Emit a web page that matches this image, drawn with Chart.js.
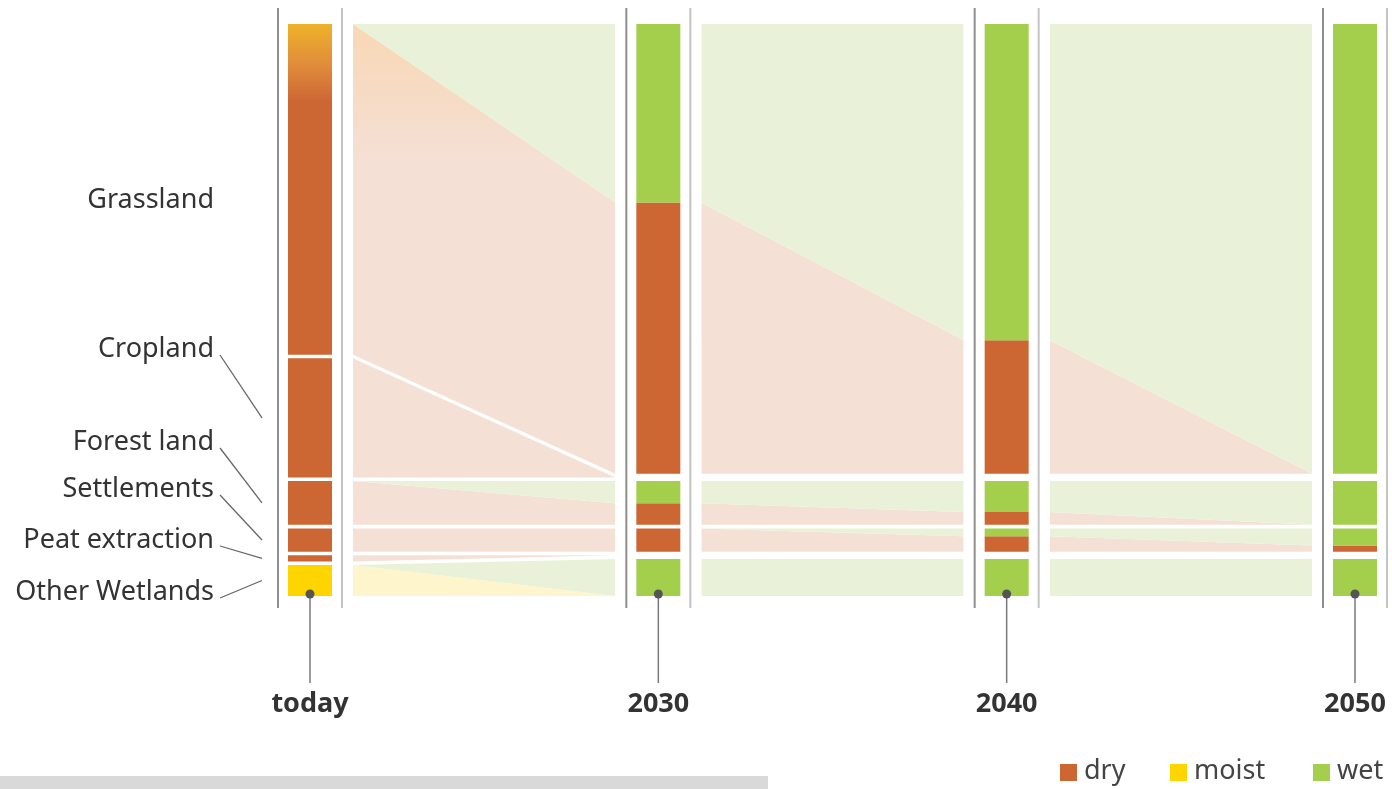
<!DOCTYPE html>
<html>
<head>
<meta charset="utf-8">
<script src="https://cdn.jsdelivr.net/npm/chart.js@4.4.1/dist/chart.umd.min.js"></script>
<style>
html, body { margin: 0; padding: 0; background: #fff; }
#wrap { width: 1392px; height: 789px; position: relative; }
</style>
</head>
<body>
<div id="wrap"><canvas id="chart" width="1392" height="789"></canvas></div>
<script>
const periods = ['today', '2030', '2040', '2050'];
const categories = ['Grassland', 'Cropland', 'Forest land', 'Settlements', 'Peat extraction', 'Other Wetlands'];

// share of total area in %, one row per category, one column per period
const wet = [
  [0, 32.2, 57.1, 81.2],
  [0, 0, 0, 0],
  [0, 4.0, 5.6, 7.9],
  [0, 0, 1.4, 3.1],
  [0, 0, 0, 0],
  [0, 6.7, 6.7, 6.7]
];
const dry = [
  [59.7, 49.0, 24.1, 0],
  [21.5, 0, 0, 0],
  [7.9, 3.9, 2.3, 0],
  [4.2, 4.2, 2.8, 1.1],
  [1.1, 0, 0, 0],
  [0, 0, 0, 0]
];
const moist = [
  [0, 0, 0, 0],
  [0, 0, 0, 0],
  [0, 0, 0, 0],
  [0, 0, 0, 0],
  [0, 0, 0, 0],
  [5.6, 0, 0, 0]
];

const states = [
  { key: 'wet', values: wet, bar: '#a4cf4c', flow: '#e9f2d8' },
  { key: 'dry', values: dry, bar: '#cc6633', flow: '#f5e0d6' },
  { key: 'moist', values: moist, bar: '#ffd500', flow: '#fff5cc' }
];

const GAP = 0.65;              // white gap between categories, in % units
const YMAX = 100 + GAP * (categories.length - 1);
const OFF = 43 / 348.33;       // distance bar centre -> flow start, in period units
const labelY = [200, 349, 442, 489, 540, 592];

// stack categories top to bottom: wet, dry, moist inside each
function stackAt(t) {
  let cur = YMAX;
  return categories.map((c, k) => {
    const out = { hi: cur };
    states.forEach(s => {
      const v = s.values[k][t];
      out[s.key] = [cur - v, cur];
      cur -= v;
    });
    out.lo = cur;
    cur -= GAP;
    return out;
  });
}
const stacks = periods.map((p, t) => stackAt(t));

function grassGradient(chart, c0, c1, c2, len) {
  const area = chart.chartArea;
  if (!area) return c2;
  const g = chart.ctx.createLinearGradient(0, area.top, 0, area.top + len);
  g.addColorStop(0, c0);
  g.addColorStop(0.55, c1);
  g.addColorStop(1, c2);
  return g;
}

const datasets = [];

// flows between periods
for (let t = 0; t < periods.length - 1; t++) {
  categories.forEach((c, k) => {
    states.forEach(s => {
      const v0 = s.values[k][t], v1 = s.values[k][t + 1];
      if (v0 === 0 && v1 === 0) return;
      const a = stacks[t][k][s.key], b = stacks[t + 1][k][s.key];
      const special = (t === 0 && k === 0 && s.key === 'dry');
      datasets.push({
        type: 'line',
        data: [{ x: t + OFF, y: a[1] }, { x: t + 1 - OFF, y: b[1] }],
        borderColor: 'rgba(0,0,0,0)',
        borderWidth: 0,
        pointRadius: 0,
        fill: '+1',
        backgroundColor: special
          ? (ctx) => grassGradient(ctx.chart, '#f8d8b6', '#f6dcc6', s.flow, 140)
          : s.flow
      });
      datasets.push({
        type: 'line',
        data: [{ x: t + OFF, y: a[0] }, { x: t + 1 - OFF, y: b[0] }],
        borderColor: 'rgba(0,0,0,0)',
        borderWidth: 0,
        pointRadius: 0,
        fill: false
      });
    });
  });
}

// stacked bars for each period
states.forEach(s => {
  const data = [];
  periods.forEach((p, t) => {
    categories.forEach((c, k) => {
      if (s.values[k][t] > 0) {
        data.push({ x: t, y: stacks[t][k][s.key], grad: (t === 0 && k === 0 && s.key === 'dry') });
      }
    });
  });
  datasets.push({
    type: 'bar',
    label: s.key,
    data: data,
    grouped: false,
    clip: false,
    maxBarThickness: 44,
    borderWidth: 0,
    backgroundColor: (ctx) => (ctx.raw && ctx.raw.grad)
      ? grassGradient(ctx.chart, '#efb22a', '#e08a3c', s.bar, 78)
      : s.bar
  });
});

const FONT = '"Noto Sans", "Open Sans", sans-serif';

const decor = {
  id: 'decor',
  beforeDatasetsDraw(chart) {
    const ctx = chart.ctx;
    const x = chart.scales.x;
    ctx.save();
    periods.forEach((p, t) => {
      const cx = x.getPixelForValue(t);
      ctx.lineWidth = 2;
      ctx.strokeStyle = '#8f8f8f';
      ctx.beginPath(); ctx.moveTo(cx - 32, 8); ctx.lineTo(cx - 32, 608); ctx.stroke();
      ctx.strokeStyle = '#c4c4c4';
      ctx.beginPath(); ctx.moveTo(cx + 32, 8); ctx.lineTo(cx + 32, 608); ctx.stroke();
    });
    ctx.restore();
  },
  afterDraw(chart) {
    const ctx = chart.ctx;
    const x = chart.scales.x, y = chart.scales.y;
    ctx.save();

    // stems and dots under the bars
    periods.forEach((p, t) => {
      const cx = x.getPixelForValue(t);
      const by = y.getPixelForValue(0) - 2;
      ctx.strokeStyle = '#7a7a7a';
      ctx.lineWidth = 1.5;
      ctx.beginPath(); ctx.moveTo(cx, by); ctx.lineTo(cx, 683); ctx.stroke();
      ctx.fillStyle = '#555';
      ctx.beginPath(); ctx.arc(cx, by, 4.5, 0, Math.PI * 2); ctx.fill();
    });

    // category labels with leader lines to today's bar
    ctx.font = '400 27px ' + FONT;
    ctx.fillStyle = '#333';
    ctx.textAlign = 'right';
    ctx.textBaseline = 'middle';
    categories.forEach((c, k) => {
      ctx.fillText(c, 214, labelY[k]);
      if (k > 0) {
        const mid = (stacks[0][k].hi + stacks[0][k].lo) / 2;
        ctx.strokeStyle = '#666';
        ctx.lineWidth = 1.3;
        ctx.beginPath();
        ctx.moveTo(220, labelY[k] + 6);
        ctx.lineTo(262, y.getPixelForValue(mid));
        ctx.stroke();
      }
    });

    // legend
    ctx.textAlign = 'left';
    ctx.textBaseline = 'middle';
    const legendX = [1060, 1170, 1313];
    ['dry', 'moist', 'wet'].forEach((name, i) => {
      const s = states.find(st => st.key === name);
      ctx.fillStyle = s.bar;
      ctx.fillRect(legendX[i], 764, 17, 17);
      ctx.fillStyle = '#444';
      ctx.fillText(name, legendX[i] + 24, 771);
    });

    ctx.fillStyle = '#d9d9d9';
    ctx.fillRect(0, 776, 768, 13);
    ctx.restore();
  }
};

new Chart(document.getElementById('chart'), {
  type: 'bar',
  data: { datasets: datasets },
  options: {
    responsive: false,
    animation: false,
    events: [],
    layout: { padding: { left: 310, right: 37, top: 24, bottom: 0 } },
    plugins: {
      legend: { display: false },
      tooltip: { enabled: false }
    },
    scales: {
      x: {
        type: 'linear',
        min: 0,
        max: periods.length - 1,
        offset: false,
        grid: { display: false, drawTicks: true, tickLength: 90 },
        border: { display: false },
        ticks: {
          stepSize: 1,
          maxRotation: 0,
          autoSkip: false,
          padding: 2,
          color: '#333',
          font: { family: FONT, size: 27, weight: 'bold' },
          callback: (v) => periods[v]
        },
        afterFit: (scale) => { scale.height = 193; }
      },
      y: {
        display: false,
        min: 0,
        max: YMAX
      }
    }
  },
  plugins: [decor]
});
</script>
</body>
</html>
